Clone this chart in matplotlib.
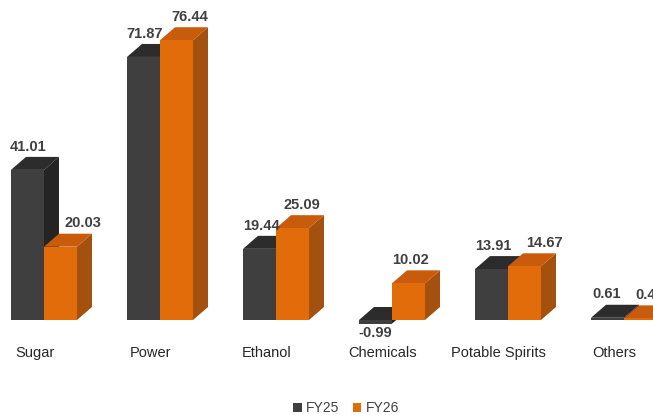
import matplotlib
matplotlib.use("Agg")
import matplotlib.pyplot as plt
from matplotlib.patches import Polygon, Patch

categories = ["Sugar", "Power", "Ethanol", "Chemicals", "Potable Spirits", "Others"]
fy25 = [41.01, 71.87, 19.44, -0.99, 13.91, 0.61]
fy26 = [20.03, 76.44, 25.09, 10.02, 14.67, 0.45]
series_names = ["FY25", "FY26"]

# horizontal label nudges (pixels) as placed in the original chart
label_shift_px = [[1, 1, 2, 0, 2, -1], [22, 13, 9, 2, 20, 9]]

plt.rcParams['font.family'] = ['Liberation Sans Narrow', 'Liberation Sans', 'DejaVu Sans']

fig = plt.figure(figsize=(6.53, 4.15), dpi=100)
ax = fig.add_axes([0, 0, 1, 1])
ax.set_xlim(-44 / 116, (653 - 44) / 116)
ax.set_ylim(-95 / 3.66, 320 / 3.66)
ax.axis('off')

bw = 33 / 116           # bar width in category units
dx = 15 / 116           # depth offset x
dy = 13 / 3.66          # depth offset y

styles = [
    dict(front='#3f3f3f', top='#2c2c2c', side='#242424'),
    dict(front='#E36C0A', top='#C95C0C', side='#A4500E'),
]

def bar3d(x0, v, st):
    lo, hi = min(0, v), max(0, v)
    x1 = x0 + bw
    side = Polygon([(x1, lo), (x1 + dx, lo + dy), (x1 + dx, hi + dy), (x1, hi)],
                   closed=True, facecolor=st['side'], edgecolor='none')
    top = Polygon([(x0, hi), (x0 + dx, hi + dy), (x1 + dx, hi + dy), (x1, hi)],
                  closed=True, facecolor=st['top'], edgecolor='none')
    front = Polygon([(x0, lo), (x1, lo), (x1, hi), (x0, hi)],
                    closed=True, facecolor=st['front'], edgecolor='none')
    for p in (side, top, front):
        ax.add_patch(p)

for i, cat in enumerate(categories):
    for j, vals in enumerate([fy25, fy26]):
        v = vals[i]
        x0 = i - bw + j * bw
        bar3d(x0, v, styles[j])
        xc = x0 + bw / 2 + label_shift_px[j][i] / 116
        if v >= 0:
            ax.text(xc, v + dy + 0.9, f"{v:.2f}", ha='center', va='bottom',
                    fontsize=10.5, fontweight='bold', color='#404040')
        else:
            ax.text(xc, v - 0.6, f"{v:.2f}", ha='center', va='top',
                    fontsize=10.5, fontweight='bold', color='#404040')
    ax.text(i - 0.08, -8.9, cat, ha='center', va='center', fontsize=10.5,
            color='#262626')

handles = [Patch(facecolor=styles[0]['front'], edgecolor='none'),
           Patch(facecolor=styles[1]['front'], edgecolor='none')]
fig.legend(handles, series_names, loc='center', bbox_to_anchor=(346 / 653, 1 - 408 / 415),
           ncol=2, frameon=False, fontsize=10, handlelength=0.6, handleheight=0.6,
           handletextpad=0.3, columnspacing=1.0, labelcolor='#404040',
           borderpad=0.1)

fig.savefig("out.png", dpi=100)
